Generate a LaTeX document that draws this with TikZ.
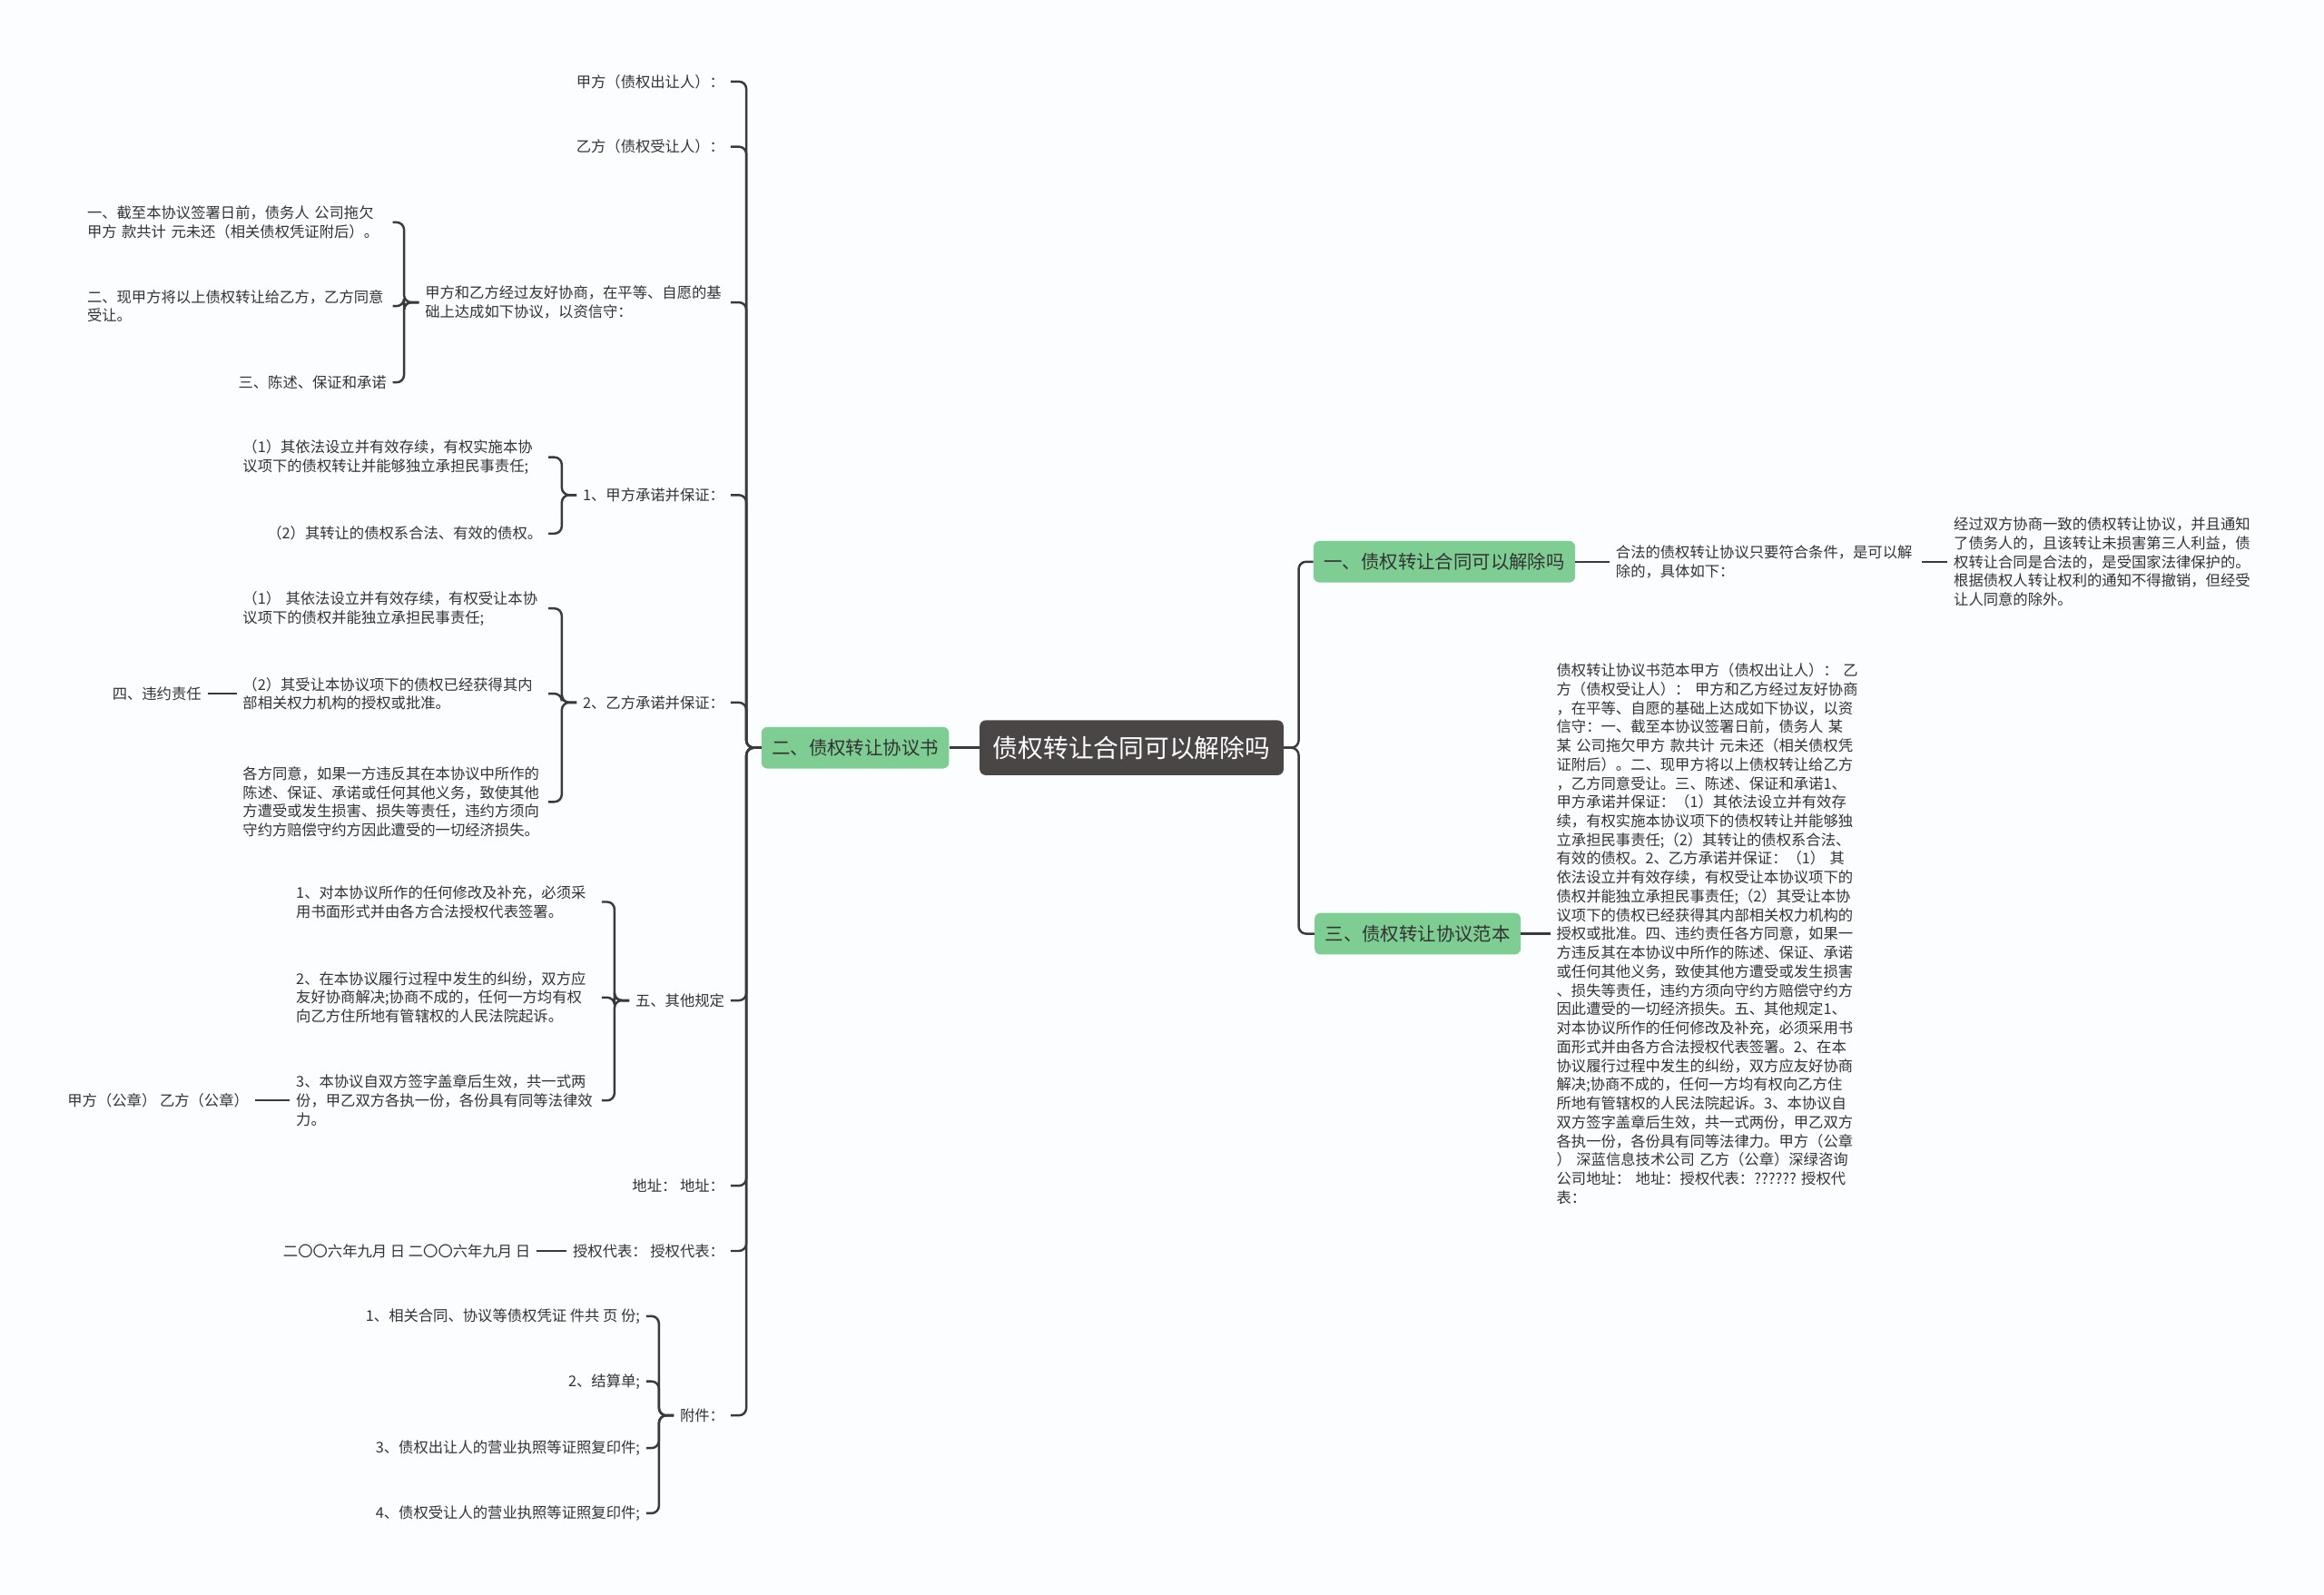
\documentclass[tikz,border=0pt]{standalone}
\usepackage{fontspec}
\newfontfamily\cjk{Noto Sans CJK SC}
\definecolor{leaf}{RGB}{126,205,146}
\definecolor{rootfill}{RGB}{74,70,70}
\definecolor{linegray}{RGB}{58,58,58}
\definecolor{txt}{RGB}{51,51,51}
\definecolor{paper}{RGB}{251,253,254}

\begin{document}
\begin{tikzpicture}[x=1pt, y=-1pt,
  link/.style={draw=linegray, line width=1.5pt, rounded corners=5pt},
  topic/.style={fill=rootfill, text=white, rounded corners=4pt, inner xsep=9pt,
    minimum height=37pt, font=\cjk\fontsize{17}{20}\selectfont},
  branch/.style={fill=leaf, text=txt, rounded corners=4pt, inner xsep=7pt,
    minimum height=28pt, font=\cjk\fontsize{12.5}{15}\selectfont},
  note/.style={text=txt, inner xsep=4pt, inner ysep=2pt, font=\cjk\fontsize{10}{12.7}\selectfont},
  para/.style={note, text width=202pt, align=left}]
  % Page
  \useasboundingbox (0,0) rectangle (1568,1076);
  \fill[paper] (0,0) rectangle (1568,1076);

  % Centre and main branches
  \node[topic] (root) at (763.5,504.5) {债权转让合同可以解除吗};
  \node[branch] (book) at (577,504.5) {二、债权转让协议书};
  \node[branch] (canquit) at (974.5,379) {一、债权转让合同可以解除吗};
  \node[branch] (sample) at (956.5,630) {三、债权转让协议范本};

  % Right side
  \node[para, anchor=west] (cond) at (1086,379) {合法的债权转让协议只要符合条件，是可以解\\除的，具体如下：};
  \node[para, anchor=west] (legal) at (1314,379) {经过双方协商一致的债权转让协议，并且通知\\了债务人的，且该转让未损害第三人利益，债\\权转让合同是合法的，是受国家法律保护的。\\根据债权人转让权利的通知不得撤销，但经受\\让人同意的除外。};
  \node[para, anchor=west] (fulltext) at (1046,630) {债权转让协议书范本甲方（债权出让人）：~乙\\方（债权受让人）：~甲方和乙方经过友好协商\\，在平等、自愿的基础上达成如下协议，以资\\信守：一、截至本协议签署日前，债务人~某\\某~公司拖欠甲方~款共计~元未还（相关债权凭\\证附后）。二、现甲方将以上债权转让给乙方\\，乙方同意受让。三、陈述、保证和承诺1、\\甲方承诺并保证：（1）其依法设立并有效存\\续，有权实施本协议项下的债权转让并能够独\\立承担民事责任;（2）其转让的债权系合法、\\有效的债权。2、乙方承诺并保证：（1）~其\\依法设立并有效存续，有权受让本协议项下的\\债权并能独立承担民事责任;（2）其受让本协\\议项下的债权已经获得其内部相关权力机构的\\授权或批准。四、违约责任各方同意，如果一\\方违反其在本协议中所作的陈述、保证、承诺\\或任何其他义务，致使其他方遭受或发生损害\\、损失等责任，违约方须向守约方赔偿守约方\\因此遭受的一切经济损失。五、其他规定1、\\对本协议所作的任何修改及补充，必须采用书\\面形式并由各方合法授权代表签署。2、在本\\协议履行过程中发生的纠纷，双方应友好协商\\解决;协商不成的，任何一方均有权向乙方住\\所地有管辖权的人民法院起诉。3、本协议自\\双方签字盖章后生效，共一式两份，甲乙双方\\各执一份，各份具有同等法律力。甲方（公章\\）~深蓝信息技术公司~乙方（公章）深绿咨询\\公司地址：~地址：授权代表：??????~授权代\\表：};

  % Left side, first level
  \node[note, anchor=east] (a1) at (493,55) {甲方（债权出让人）：};
  \node[note, anchor=east] (a2) at (493,99) {乙方（债权受让人）：};
  \node[para, anchor=east] (a3) at (493,204) {甲方和乙方经过友好协商，在平等、自愿的基\\础上达成如下协议，以资信守：};
  \node[note, anchor=east] (a4) at (493,334) {1、甲方承诺并保证：};
  \node[note, anchor=east] (a5) at (493,474) {2、乙方承诺并保证：};
  \node[note, anchor=east] (a6) at (493,675) {五、其他规定};
  \node[note, anchor=east] (a7) at (493,800) {地址：~地址：};
  \node[note, anchor=east] (a8) at (493,844) {授权代表：~授权代表：};
  \node[note, anchor=east] (a9) at (493,955) {附件：};

  % Under a3
  \node[para, anchor=east] (b1) at (265,150) {一、截至本协议签署日前，债务人~公司拖欠\\甲方~款共计~元未还（相关债权凭证附后）。};
  \node[para, anchor=east] (b2) at (265,206.5) {二、现甲方将以上债权转让给乙方，乙方同意\\受让。};
  \node[note, anchor=east] (b3) at (265,258) {三、陈述、保证和承诺};

  % Under a4 and a5
  \node[para, anchor=east] (c1) at (370,308.5) {（1）其依法设立并有效存续，有权实施本协\\议项下的债权转让并能够独立承担民事责任;};
  \node[note, anchor=east] (c2) at (370,360) {（2）其转让的债权系合法、有效的债权。};
  \node[para, anchor=east] (d1) at (370,410.5) {（1）~其依法设立并有效存续，有权受让本协\\议项下的债权并能独立承担民事责任;};
  \node[para, anchor=east] (d2) at (370,468) {（2）其受让本协议项下的债权已经获得其内\\部相关权力机构的授权或批准。};
  \node[para, anchor=east] (d3) at (370,541) {各方同意，如果一方违反其在本协议中所作的\\陈述、保证、承诺或任何其他义务，致使其他\\方遭受或发生损害、损失等责任，违约方须向\\守约方赔偿守约方因此遭受的一切经济损失。};
  \node[note, anchor=east] (penalty) at (140,468) {四、违约责任};

  % Under a6
  \node[para, anchor=east] (e1) at (406,608.5) {1、对本协议所作的任何修改及补充，必须采\\用书面形式并由各方合法授权代表签署。};
  \node[para, anchor=east] (e2) at (406,673) {2、在本协议履行过程中发生的纠纷，双方应\\友好协商解决;协商不成的，任何一方均有权\\向乙方住所地有管辖权的人民法院起诉。};
  \node[para, anchor=east] (e3) at (406,742.5) {3、本协议自双方签字盖章后生效，共一式两\\份，甲乙双方各执一份，各份具有同等法律效\\力。};
  \node[note, anchor=east] (seals) at (172,742.5) {甲方（公章）~乙方（公章）};

  % Under a8 and a9
  \node[note, anchor=east] (dates) at (362,844) {二〇〇六年九月~日~二〇〇六年九月~日};
  \node[note, anchor=east] (f1) at (436,888) {1、相关合同、协议等债权凭证~件共~页~份;};
  \node[note, anchor=east] (f2) at (436,932) {2、结算单;};
  \node[note, anchor=east] (f3) at (436,977) {3、债权出让人的营业执照等证照复印件;};
  \node[note, anchor=east] (f4) at (436,1021) {4、债权受让人的营业执照等证照复印件;};

  % Connectors
  \draw[link] (root.west) -- (book.east);
  \foreach \c in {canquit,sample}
    \draw[link] (root.east) -- ++(10,0) |- (\c.west);
  \draw[link] (canquit.east) -- (cond.west);
  \draw[link] (cond.east) -- (legal.west);
  \draw[link] (sample.east) -- (fulltext.west);
  \foreach \c in {a1,a2,a3,a4,a5,a6,a7,a8,a9}
    \draw[link] (book.west) -- ++(-10,0) |- (\c.east);
  \foreach \c in {b1,b2,b3}
    \draw[link] (a3.west) -- ++(-10,0) |- (\c.east);
  \foreach \c in {c1,c2}
    \draw[link] (a4.west) -- ++(-10,0) |- (\c.east);
  \foreach \c in {d1,d2,d3}
    \draw[link] (a5.west) -- ++(-10,0) |- (\c.east);
  \foreach \c in {e1,e2,e3}
    \draw[link] (a6.west) -- ++(-10,0) |- (\c.east);
  \foreach \c in {f1,f2,f3,f4}
    \draw[link] (a9.west) -- ++(-10,0) |- (\c.east);
  \draw[link] (d2.west) -- (penalty.east);
  \draw[link] (e3.west) -- (seals.east);
  \draw[link] (a8.west) -- (dates.east);
\end{tikzpicture}
\end{document}
